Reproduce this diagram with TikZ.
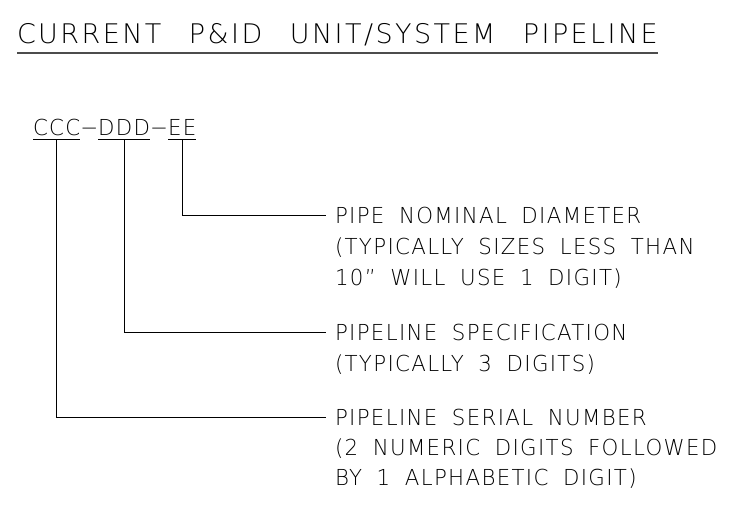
\documentclass[tikz,border=0pt]{standalone}
\usepackage{fontspec}
\newfontfamily\cadfont{DejaVu Sans ExtraLight}[LetterSpace=6,WordSpace=1.8,FakeStretch=0.97]
\newfontfamily\headfont{DejaVu Sans ExtraLight}[LetterSpace=9,WordSpace=2.5]
\usetikzlibrary{positioning}
\begin{document}
\begin{tikzpicture}[x=1pt, y=-1pt,
    every node/.style={inner sep=0pt, outer sep=0pt, text depth=0pt},
    title/.style={anchor=base west, font=\headfont\fontsize{27}{27}\selectfont, inner ysep=9pt},
    code/.style={font=\cadfont\fontsize{22}{22}\selectfont, inner ysep=4pt},
    note/.style={anchor=base west, font=\cadfont\fontsize{22}{22}\selectfont, inner xsep=9pt, text height=16pt},
    leader/.style={line width=0.8pt}]
    \useasboundingbox (0,0) rectangle (751,508);

    \node[title](title) at (17, 44) {CURRENT P\&ID UNIT/SYSTEM PIPELINE};
    \draw[line width=1.6pt, black!70] (title.south west) -- (title.south east);

    % line number
    \node[code, anchor=base west](ccc) at (33, 135) {CCC};
    \node[code, base right=0pt of ccc](dash1) {−};
    \node[code, base right=0pt of dash1](ddd) {DDD};
    \node[code, base right=0pt of ddd](dash2) {−};
    \node[code, base right=0pt of dash2](ee) {EE};
    \draw[leader] (ccc.south west) -- (ccc.south east)
                  (ddd.south west) -- (ddd.south east)
                  (ee.south west) -- (ee.south east);

    % pipe size
    \node[note](dia1) at (326, 223) {PIPE NOMINAL DIAMETER};
    \node[note](dia2) at (326, 254) {(TYPICALLY SIZES LESS THAN};
    \node[note](dia3) at (326, 285) {10” WILL USE 1 DIGIT)};

    % spec
    \node[note](spec1) at (326, 340) {PIPELINE SPECIFICATION};
    \node[note](spec2) at (326, 371) {(TYPICALLY 3 DIGITS)};

    % serial
    \node[note](ser1) at (326, 425) {PIPELINE SERIAL NUMBER};
    \node[note](ser2) at (326, 455) {(2 NUMERIC DIGITS FOLLOWED};
    \node[note](ser3) at (326, 485) {BY 1 ALPHABETIC DIGIT)};

    \draw[leader] (ee.south) |- (dia1.west)
                  (ddd.south) |- (spec1.west)
                  (ccc.south) |- (ser1.west);
\end{tikzpicture}
\end{document}
